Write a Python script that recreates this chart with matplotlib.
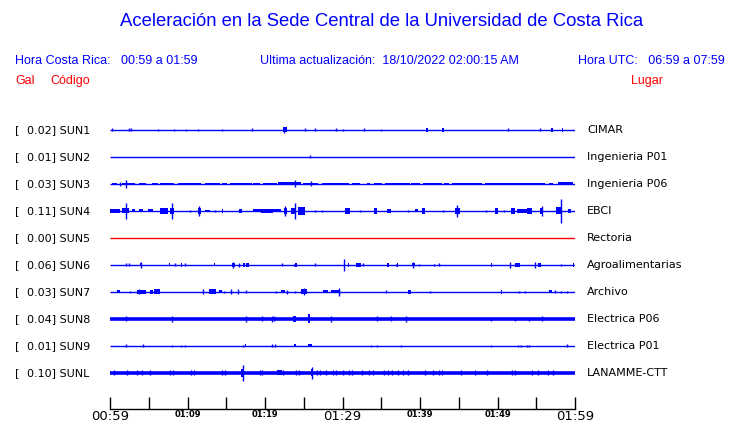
import matplotlib
matplotlib.use("Agg")
import matplotlib.pyplot as plt

# station table
codes = ["SUN1", "SUN2", "SUN3", "SUN4", "SUN5", "SUN6", "SUN7", "SUN8", "SUN9", "SUNL"]
places = ["CIMAR", "Ingenieria P01", "Ingenieria P06", "EBCI", "Rectoria",
          "Agroalimentarias", "Archivo", "Electrica P06", "Electrica P01", "LANAMME-CTT"]
gal = [0.02, 0.01, 0.03, 0.11, 0.00, 0.06, 0.03, 0.04, 0.01, 0.10]

# events per trace: (start minute, end minute, half amplitude in px); start == end -> single spike
ev_sun1 = [(0.3, 0.3, 1.5), (2.5, 2.5, 1.5), (2.7, 2.7, 1.5), (6.2, 6.2, 1.2), (8.2, 8.2, 1.2),
           (9.8, 9.8, 1.2), (11.4, 11.4, 1.2), (14.4, 14.4, 1.2), (18.3, 18.3, 1.5),
           (22.3, 22.8, 2.5), (22.5, 22.5, 3.0), (25.2, 25.2, 1.5), (26.5, 26.5, 1.5),
           (29.2, 29.2, 1.5), (30.1, 30.1, 1.2), (32.8, 32.8, 1.5), (35.0, 35.0, 1.2),
           (40.8, 41.0, 1.8), (42.9, 43.1, 1.8), (51.3, 51.3, 1.5), (55.5, 55.5, 1.5),
           (56.9, 57.1, 1.8), (58.3, 58.5, 1.8)]
ev_sun2 = [(25.8, 25.8, 1.5)]
ev_sun3 = [(0.2, 0.9, 1.2), (1.5, 3.2, 1.3), (3.7, 4.7, 1.3), (5.4, 6.2, 1.3), (6.5, 8.2, 1.2),
           (8.8, 11.8, 1.3), (12.3, 14.2, 1.2), (14.4, 15.1, 1.2), (15.5, 18.3, 1.3),
           (18.5, 19.4, 1.2), (19.8, 21.5, 1.3), (21.7, 24.7, 1.5), (24.9, 26.9, 1.3),
           (27.3, 30.8, 1.2), (31.2, 32.3, 1.2), (33.1, 33.5, 1.2), (34.0, 35.1, 1.3),
           (35.5, 38.7, 1.3), (38.9, 40.0, 1.3), (40.4, 42.8, 1.3), (43.1, 43.7, 1.2),
           (44.1, 48.0, 1.3), (48.4, 56.1, 1.3), (56.6, 57.2, 1.2), (57.8, 59.8, 1.5),
           (2.0, 2.0, 4.0), (23.9, 23.9, 3.5), (25.9, 25.9, 2.5), (1.3, 1.3, 2.0)]
ev_sun4 = [(0.0, 1.3, 2.0), (1.5, 2.5, 2.5), (2.0, 2.0, 8.0), (2.8, 3.2, 1.5), (3.7, 4.3, 1.5),
           (4.9, 5.5, 1.5), (6.5, 7.5, 3.0), (7.7, 8.3, 3.0), (8.0, 8.0, 8.0), (10.3, 10.3, 1.2),
           (11.3, 11.8, 3.0), (11.5, 11.5, 5.0), (12.3, 12.9, 1.0), (13.5, 13.5, 1.2),
           (14.4, 14.6, 2.0), (16.6, 17.0, 2.0), (18.5, 22.1, 1.5), (19.5, 21.0, 2.0),
           (22.5, 22.8, 3.0), (22.6, 22.6, 5.0), (23.3, 24.0, 3.0), (23.9, 23.9, 8.0),
           (24.3, 25.1, 4.0), (26.4, 26.4, 1.0), (27.4, 27.4, 1.0), (30.3, 31.0, 3.0),
           (32.3, 32.3, 1.0), (34.1, 34.4, 3.0), (35.8, 36.3, 2.0), (38.4, 38.4, 1.0),
           (39.4, 39.8, 1.5), (40.2, 40.6, 3.0), (43.0, 43.0, 1.0), (44.5, 45.2, 3.0),
           (44.8, 44.8, 6.0), (48.5, 48.5, 1.0), (49.7, 50.1, 3.0), (50.9, 50.9, 1.0),
           (51.8, 52.3, 3.0), (52.5, 53.8, 2.0), (53.8, 54.4, 3.0), (55.5, 55.9, 3.0),
           (55.7, 55.7, 5.0), (57.6, 58.3, 3.5), (58.2, 58.2, 12.0), (59.1, 59.5, 2.0)]
ev_sun5 = []
ev_sun6 = [(2.0, 2.0, 1.5), (2.5, 2.5, 1.5), (3.9, 4.1, 1.5), (4.0, 4.0, 3.0), (7.6, 7.8, 1.5),
           (8.4, 8.4, 1.5), (9.1, 9.3, 2.0), (9.7, 9.7, 1.5), (13.4, 13.6, 1.5), (15.7, 16.1, 2.0),
           (15.9, 15.9, 3.0), (16.6, 16.6, 2.0), (17.2, 17.4, 2.0), (17.6, 17.9, 2.0),
           (22.2, 22.2, 1.5), (23.7, 23.7, 1.0), (23.9, 24.1, 2.0), (26.5, 26.5, 1.5),
           (30.2, 30.2, 6.0), (30.7, 30.9, 2.0), (31.7, 32.4, 2.0), (32.7, 32.7, 1.5),
           (35.8, 36.0, 2.0), (36.9, 36.9, 1.0), (37.0, 37.2, 2.0), (39.1, 39.1, 3.0),
           (39.0, 39.3, 1.5), (39.9, 39.9, 1.0), (41.8, 41.8, 1.0), (42.4, 42.4, 1.5),
           (49.1, 49.3, 2.0), (51.6, 51.6, 3.0), (52.2, 52.9, 2.0), (54.9, 54.9, 3.0),
           (55.2, 55.6, 2.0), (58.2, 58.2, 1.0), (59.7, 59.9, 2.0)]
ev_sun7 = [(0.9, 1.3, 1.5), (2.6, 2.6, 1.2), (3.5, 4.6, 2.0), (3.7, 3.7, 2.5), (5.1, 5.6, 2.0),
           (5.7, 6.5, 2.5), (12.0, 12.0, 2.5), (12.8, 13.7, 2.5), (14.0, 14.5, 1.5),
           (14.7, 14.7, 1.2), (15.6, 15.6, 2.5), (16.5, 16.5, 2.5), (17.5, 17.5, 1.5),
           (21.4, 21.4, 1.2), (22.1, 22.6, 1.5), (22.9, 22.9, 2.0), (23.9, 23.9, 1.2),
           (24.7, 25.4, 2.5), (25.0, 25.0, 3.5), (27.5, 28.1, 1.5), (28.5, 29.5, 1.5),
           (29.6, 29.6, 4.0), (35.6, 35.6, 1.5), (38.5, 38.8, 2.0), (41.3, 41.3, 1.2),
           (50.4, 50.6, 2.0), (52.8, 52.8, 1.0), (53.5, 53.5, 1.0), (56.6, 57.0, 1.5),
           (57.4, 57.4, 1.5), (58.2, 58.2, 1.0), (59.0, 59.0, 1.0)]
ev_sun8 = [(2.0, 2.0, 2.5), (8.0, 8.0, 3.0), (17.6, 17.6, 3.0), (19.6, 19.6, 2.5),
           (20.9, 20.9, 3.0), (21.1, 21.1, 2.5), (23.6, 24.0, 3.0), (25.6, 25.8, 4.5),
           (28.5, 28.5, 3.0), (34.4, 34.4, 2.5), (36.3, 36.3, 2.5), (38.2, 38.2, 3.0),
           (49.2, 49.2, 2.0), (52.3, 52.3, 2.0), (54.1, 54.1, 2.0), (55.7, 55.7, 2.5)]
ev_sun9 = [(2.0, 2.0, 1.5), (4.3, 4.3, 1.5), (8.0, 8.0, 1.0), (9.2, 9.2, 1.0), (9.7, 9.7, 1.0),
           (17.2, 17.2, 1.0), (17.4, 17.6, 1.5), (20.9, 20.9, 1.5), (21.3, 21.3, 1.5),
           (23.8, 24.0, 1.5), (25.5, 26.0, 1.5), (33.7, 33.7, 1.0), (34.5, 34.5, 1.0),
           (37.5, 37.5, 1.0), (49.2, 49.2, 1.0), (52.7, 52.7, 1.0), (53.0, 53.0, 1.0),
           (53.8, 53.8, 1.0), (54.1, 54.1, 1.0), (59.0, 59.0, 1.5)]
ev_sunl = [(16.9, 17.3, 4.0), (17.1, 17.1, 8.0), (25.9, 26.2, 3.5), (26.1, 26.1, 6.0),
           (21.5, 22.2, 2.5)] + [(m, m, 2.5) for m in
           [0.56, 2.15, 3.44, 4.09, 5.16, 7.74, 8.17, 10.45, 10.88, 14.49, 14.84, 19.35, 19.57,
            22.37, 23.96, 24.39, 26.67, 27.1, 27.83, 28.82, 29.12, 30.1, 30.88, 31.18, 32.47,
            33.42, 33.98, 35.4, 35.83, 36.43, 37.12, 37.76, 38.49, 40.65, 41.72, 42.45, 42.8,
            45.25, 47.1, 48.6, 51.9, 52.3, 54.5, 55.27, 56.47, 57.2]]
events = [ev_sun1, ev_sun2, ev_sun3, ev_sun4, ev_sun5, ev_sun6, ev_sun7, ev_sun8, ev_sun9, ev_sunl]

tick_min = list(range(0, 61, 5))
tick_lab = ["00:59", "", "01:09", "", "01:19", "", "01:29", "", "01:39", "", "01:49", "", "01:59"]

BLUE = "#0000ff"
RED = "#ff0000"
W, H = 740, 423

fig = plt.figure(figsize=(W / 100, H / 100), dpi=100)

# traces axes: x in minutes, y in pixels (top down)
ax = fig.add_axes([110 / W, 0, 465 / W, 1])
ax.set_xlim(0, 60)
ax.set_ylim(H, 0)
ax.axis("off")

for i, code in enumerate(codes):
    y0 = 130 + 27 * i
    col = RED if gal[i] == 0 else BLUE
    thick = code in ("SUN8", "SUNL")
    ax.hlines(y0, 0, 60, color=col, lw=2.6 if thick else 1.0)
    for s, e, a in events[i]:
        if e > s:
            ax.bar(s, 2 * a, width=e - s, bottom=y0 - a, align="edge", color=col, lw=0)
        else:
            ax.vlines(s, y0 - a, y0 + a, color=col, lw=1.0)
    fig.text(15 / W, 1 - y0 / H, "[", fontsize=8, va="center", family="DejaVu Sans")
    fig.text(27 / W, 1 - y0 / H, f"{gal[i]:.2f}] {code}", fontsize=8, va="center",
             family="DejaVu Sans")
    fig.text(587 / W, 1 - y0 / H, places[i], fontsize=8, va="center", family="DejaVu Sans")

# time axis
axt = fig.add_axes([110 / W, 1 - 409 / H, 465 / W, 0.001])
axt.set_xlim(0, 60)
axt.set_yticks([])
for sp in ("top", "left", "right"):
    axt.spines[sp].set_visible(False)
axt.spines["bottom"].set_linewidth(1.0)
axt.set_xticks(tick_min)
axt.set_xticklabels(tick_lab)
axt.tick_params(axis="x", direction="in", length=9, width=1.0, pad=1)
for lab in axt.get_xticklabels():
    if lab.get_text() in ("00:59", "01:29", "01:59"):
        lab.set_fontsize(9.5)
    else:
        lab.set_fontsize(6)
        lab.set_fontweight("bold")
    lab.set_family("DejaVu Sans")

# header texts
fig.text(382 / W, 1 - 22 / H, "Aceleración en la Sede Central de la Universidad de Costa Rica",
         color=BLUE, fontsize=13.3, ha="center", va="center", family="Liberation Sans")
hdr = dict(color=BLUE, fontsize=9, va="center", family="Liberation Sans")
fig.text(15 / W, 1 - 61 / H, "Hora Costa Rica:   00:59 a 01:59", **hdr)
fig.text(260 / W, 1 - 61 / H, "Ultima actualización:  18/10/2022 02:00:15 AM", **hdr)
fig.text(725 / W, 1 - 61 / H, "Hora UTC:   06:59 a 07:59", ha="right", **hdr)
sub = dict(color=RED, fontsize=9, va="center", family="Liberation Sans")
fig.text(15 / W, 1 - 81 / H, "Gal", **sub)
fig.text(50 / W, 1 - 81 / H, "Código", **sub)
fig.text(663 / W, 1 - 81 / H, "Lugar", ha="right", **sub)

fig.savefig("out.png", dpi=100)
